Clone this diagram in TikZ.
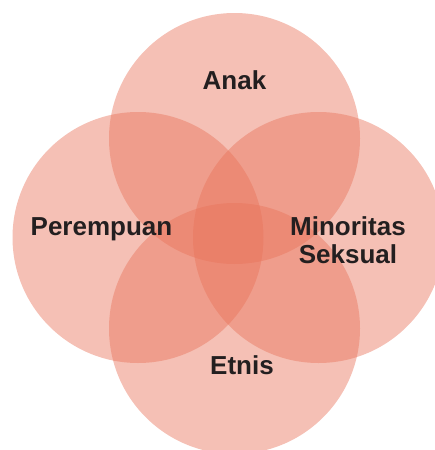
\documentclass[tikz,border=0pt]{standalone}
\usepackage{fontspec}
\setmainfont{Liberation Sans}
\usepackage{tikz}
\usetikzlibrary{positioning}
\definecolor{vennred}{RGB}{232,115,90}
\definecolor{textdark}{RGB}{35,31,32}

\begin{document}
\begin{tikzpicture}[
      x=1pt, y=-1pt,
      group/.style={circle, fill=vennred, fill opacity=0.45, minimum size=251pt, inner sep=0pt},
      tag/.style={font=\fontsize{26pt}{28pt}\selectfont\bfseries, text=textdark, align=center, anchor=base}
  ]
      \useasboundingbox (0,0) rectangle (435,450);
      \clip (0,0) rectangle (435,450);

      % CIRCLES
      \node[group] (anak) at (234.5, 138.5) {};
      \node[group] (perempuan) at (138, 237.5) {};
      \node[group] (minoritas) at (318.5, 237.5) {};
      \node[group] (etnis) at (234.5, 328.5) {};

      % LABELS
      \node[tag] (anaklbl) at (234.5, 89) {Anak};
      \node[tag] (perempuanlbl) at (101.5, 235) {Perempuan};
      \node[tag] (minoritaslbl) at (348, 263) {Minoritas\\Seksual};
      \node[tag] (etnislbl) at (242, 374) {Etnis};
  \end{tikzpicture}
\end{document}
